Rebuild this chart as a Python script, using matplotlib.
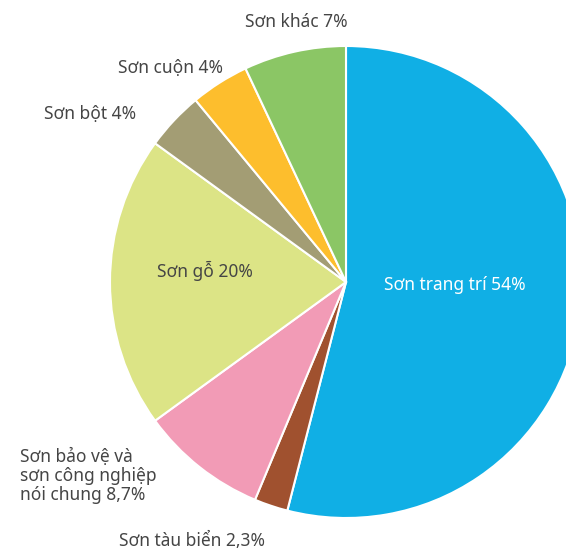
import matplotlib.pyplot as plt

labels = ['Sơn trang trí 54%', 'Sơn tàu biển 2,3%',
          'Sơn bảo vệ và\nsơn công nghiệp\nnói chung 8,7%',
          'Sơn gỗ 20%', 'Sơn bột 4%', 'Sơn cuộn 4%', 'Sơn khác 7%']
shares = [54, 2.3, 8.7, 20, 4, 4, 7]
colors = ['#10afe5', '#a0512f', '#f29bb6', '#dce486', '#a39d74', '#fdbe2d', '#8bc665']

plt.rcParams['font.family'] = ['Noto Sans', 'DejaVu Sans']

fig = plt.figure(figsize=(5.66, 5.49), dpi=100)
ax = fig.add_axes([0, 0, 1, 1])
ax.pie(shares, colors=colors, startangle=90, counterclock=False, radius=1,
       wedgeprops={'edgecolor': 'white', 'linewidth': 1.5})

# pixel -> data: x = (px - 346)/236, y = (282 - py)/236
def P(px, py):
    return (px - 346) / 236, (282 - py) / 236

ax.set_xlim(P(0, 0)[0], P(566, 0)[0])
ax.set_ylim(P(0, 549)[1], P(0, 0)[1])
ax.set_aspect('auto')
ax.axis('off')

txt = '#454545'
fs = 12.5
ax.text(*P(455, 285), labels[0], color='white', fontsize=fs, ha='center', va='center')
ax.text(*P(192, 541), labels[1], color=txt, fontsize=fs, ha='center', va='center')
ax.text(*P(20, 476), labels[2], color=txt, fontsize=fs, ha='left', va='center',
        linespacing=1.1)
ax.text(*P(205, 271), labels[3], color=txt, fontsize=fs, ha='center', va='center')
ax.text(*P(90, 114), labels[4], color=txt, fontsize=fs, ha='center', va='center')
ax.text(*P(170, 68), labels[5], color=txt, fontsize=fs, ha='center', va='center')
ax.text(*P(296, 22), labels[6], color=txt, fontsize=fs, ha='center', va='center')

fig.savefig('out.png', dpi=100)
